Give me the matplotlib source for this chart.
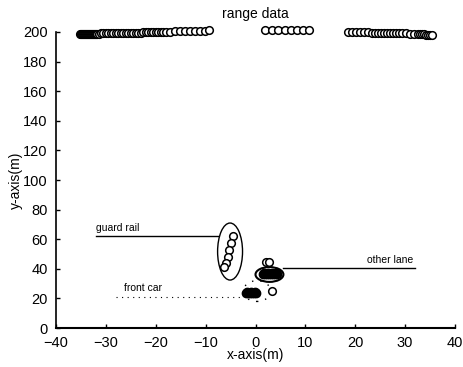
import matplotlib
matplotlib.use("Agg")
import matplotlib.pyplot as plt
from matplotlib.patches import Ellipse

plt.rcParams['font.family'] = ['Liberation Sans', 'DejaVu Sans']

# ---- data ----
top_left_x = [-35.2, -35.0, -34.8, -34.6, -34.4, -34.2, -34.0, -33.8, -33.6, -33.4,
              -33.2, -33.0, -32.8, -32.6, -32.4, -32.2, -32.0, -31.7, -31.3, -30.9,
              -30.5, -30.0, -29.5, -29.0, -28.5, -28.0, -27.5, -27.0, -26.5, -26.0,
              -25.5, -25.0, -24.5, -24.0, -23.5, -23.0, -22.5, -22.0, -21.5, -21.0,
              -20.5, -20.0, -19.5, -19.0, -18.5, -18.0, -17.2, -16.2, -15.2, -14.2,
              -13.2, -12.2, -11.2, -10.2, -9.3]
top_left_y = [198.5, 198.5, 198.5, 198.5, 198.5, 198.6, 198.6, 198.6, 198.6, 198.7,
              198.7, 198.7, 198.7, 198.8, 198.8, 198.8, 198.8, 198.9, 198.9, 199.0,
              199.0, 199.0, 199.1, 199.1, 199.2, 199.2, 199.3, 199.3, 199.3, 199.4,
              199.4, 199.5, 199.5, 199.5, 199.6, 199.6, 199.7, 199.7, 199.7, 199.8,
              199.8, 199.9, 199.9, 200.0, 200.0, 200.1, 200.2, 200.3, 200.4, 200.5,
              200.6, 200.7, 200.8, 200.9, 201.0]
top_mid_x = [2.0, 3.3, 4.6, 5.9, 7.1, 8.3, 9.5, 10.7]
top_mid_y = [201.0, 201.0, 201.0, 201.0, 201.0, 201.0, 201.0, 201.0]
top_right_x = [18.5, 19.3, 20.1, 20.9, 21.7, 22.5, 23.3, 24.0, 24.6, 25.2,
               25.8, 26.4, 27.0, 27.6, 28.2, 28.8, 29.4, 30.2, 31.0, 31.8,
               32.6, 33.0, 33.4, 33.8, 34.2, 34.6, 35.0, 35.4]
top_right_y = [199.8, 199.8, 199.8, 199.7, 199.7, 199.7, 199.6, 199.6, 199.6, 199.5,
               199.5, 199.5, 199.4, 199.4, 199.3, 199.3, 199.2, 199.0, 198.8, 198.6,
               198.5, 198.4, 198.3, 198.3, 198.2, 198.2, 198.1, 198.1]

rail_x = [-4.6, -5.0, -5.3, -5.6, -6.0, -6.4]
rail_y = [62.0, 57.5, 52.5, 48.0, 44.0, 41.0]

lane_x = [1.5, 1.9, 2.3, 2.7, 3.1, 3.5, 3.9, 4.3, 1.7, 2.5, 3.3, 4.1]
lane_y = [36.5, 36.5, 36.5, 36.5, 36.5, 36.5, 36.5, 36.5, 37.5, 37.5, 37.5, 37.5]
lane_extra_x = [2.2, 2.8]
lane_extra_y = [44.5, 44.8]

car_x = [-2.0, -1.6, -1.2, -0.8, -0.4, 0.0, -1.8, -1.0, -0.2]
car_y = [23.5, 23.5, 23.5, 23.5, 23.5, 23.5, 24.5, 24.5, 24.5]
car_extra_x = [3.4]
car_extra_y = [25.0]

x_ticks = [-40, -30, -20, -10, 0, 10, 20, 30, 40]
y_ticks = [0, 20, 40, 60, 80, 100, 120, 140, 160, 180, 200]

# ---- figure ----
fig = plt.figure(figsize=(4.64, 3.67), dpi=100)
ax = fig.add_axes([0.1207, 0.106, 0.8599, 0.807])

mk = dict(marker='o', linestyle='none', markerfacecolor='white',
          markeredgecolor='black', markersize=5.5, markeredgewidth=1.1, clip_on=False)
ax.plot(top_left_x, top_left_y, **mk)
ax.plot(top_mid_x, top_mid_y, **mk)
ax.plot(top_right_x, top_right_y, **mk)
ax.plot(rail_x, rail_y, **mk)
ax.plot(lane_extra_x, lane_extra_y, **mk)
ax.plot(car_extra_x, car_extra_y, **mk)
ax.plot(lane_x, lane_y, marker='o', linestyle='none', color='black', markersize=6)
ax.plot(car_x, car_y, marker='o', linestyle='none', color='black', markersize=6)

ax.add_patch(Ellipse((-5.1, 51.7), 5.0, 38.5, fill=False, edgecolor='black', lw=1.0))
ax.add_patch(Ellipse((2.8, 36.2), 5.6, 10.0, fill=False, edgecolor='black', lw=1.5))
ax.add_patch(Ellipse((0.3, 25.0), 5.5, 14.0, fill=False, edgecolor='black', lw=1.0,
                     linestyle=(0, (1, 5))))

# annotation lines and labels
ax.plot([-32, -7.6], [62.2, 62.2], color='black', lw=1.0)
ax.text(-32, 64.5, 'guard rail', fontsize=7.5, ha='left', va='bottom')
ax.plot([5.6, 32], [40.5, 40.5], color='black', lw=1.0)
ax.text(31.6, 42.5, 'other lane', fontsize=7.5, ha='right', va='bottom')
ax.plot([-28, -3], [21.0, 21.0], color='black', lw=0.8, linestyle=(0, (1, 4)))
ax.text(-26.4, 23.5, 'front car', fontsize=7.5, ha='left', va='bottom')

ax.set_xlim(-40, 40)
ax.set_ylim(0, 200)
ax.set_xticks(x_ticks)
ax.set_yticks(y_ticks)
ax.tick_params(direction='in', length=3, labelsize=10.5, width=1)
ax.tick_params(axis='y', pad=6)
ax.tick_params(axis='x', pad=5.5)
ax.spines['top'].set_visible(False)
ax.spines['right'].set_visible(False)
ax.spines['left'].set_linewidth(1.2)
ax.spines['bottom'].set_linewidth(1.5)
ax.set_xlabel('x-axis(m)', fontsize=10, labelpad=-1)
ax.set_ylabel('y-axis(m)', fontsize=10, labelpad=0)
ax.set_title('range data', fontsize=10, pad=10)

fig.savefig('out.png', dpi=100)
